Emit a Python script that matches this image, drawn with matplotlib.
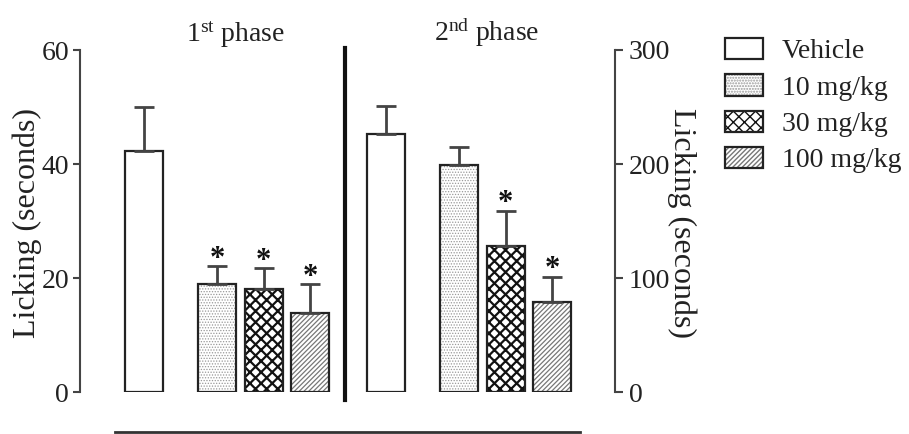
import matplotlib
matplotlib.use('Agg')
import matplotlib.pyplot as plt
from matplotlib.patches import Patch
from matplotlib.lines import Line2D

# ---- data ----
groups = ['Vehicle', '10 mg/kg', '30 mg/kg', '100 mg/kg']
phase1_mean = [42.3, 18.9, 18.1, 13.9]
phase1_err = [7.7, 3.2, 3.6, 5.0]
phase1_sig = [False, True, True, True]
phase2_mean = [226, 199, 128, 79]
phase2_err = [25, 16, 31, 22]
phase2_sig = [False, False, True, True]
left_ticks = [0, 20, 40, 60]
right_ticks = [0, 100, 200, 300]
phase_titles = ['1$^{\\mathrm{st}}$ phase', '2$^{\\mathrm{nd}}$ phase']
ylabel = 'Licking (seconds)'

# ---- style ----
plt.rcParams['font.family'] = ['Liberation Serif', 'DejaVu Serif']
plt.rcParams['mathtext.fontset'] = 'custom'
plt.rcParams['mathtext.rm'] = 'Liberation Serif'
plt.rcParams['mathtext.it'] = 'Liberation Serif:italic'
plt.rcParams['mathtext.bf'] = 'Liberation Serif:bold'
FS = 20
YFS = 23
TXT = '#222222'

styles = [
    dict(face='white', hatch=None, hcolor='#222222', hlw=1.0),
    dict(face='white', hatch='......', hcolor='#999999', hlw=0.6),
    dict(face='white', hatch='xxx', hcolor='#111111', hlw=1.6),
    dict(face='white', hatch='///////', hcolor='#777777', hlw=0.9),
]

fig = plt.figure(figsize=(9.09, 4.34), dpi=100)
ax = fig.add_axes([80 / 909, 42 / 434, 535 / 909, 342 / 434])
ax2 = ax.twinx()

ax.set_xlim(0, 11.5)
ax.set_ylim(0, 60)
ax2.set_ylim(0, 300)

pos1 = [1.37, 2.95, 3.95, 4.95]
pos2 = [6.57, 8.15, 9.15, 10.15]
width = 0.82


def make_bar(axis, x, m, st):
    b = axis.bar(x, m, width, color=st['face'], edgecolor=st['hcolor'],
                 hatch=st['hatch'], linewidth=0, zorder=1)
    for p in b:
        if hasattr(p, 'set_hatch_linewidth'):
            p.set_hatch_linewidth(st['hlw'])
    axis.bar(x, m, width, fill=False, edgecolor='#222222', linewidth=1.6, zorder=1.5)


def draw(axis, xs, means, errs, sig):
    for i, (x, m, e, s) in enumerate(zip(xs, means, errs, sig)):
        st = styles[i]
        make_bar(axis, x, m, st)
        axis.errorbar(x, m, yerr=[[0], [e]], fmt='none', ecolor='#444444',
                      elinewidth=2, capsize=7, capthick=2, zorder=2)
        if s:
            axis.annotate('*', (x, m + e), xytext=(0, 7), textcoords='offset pixels',
                          ha='center', va='center', fontsize=22, fontweight='bold',
                          color='#111111')


draw(ax, pos1, phase1_mean, phase1_err, phase1_sig)
draw(ax2, pos2, phase2_mean, phase2_err, phase2_sig)

for s in ['top', 'right', 'bottom']:
    ax.spines[s].set_visible(False)
for s in ['top', 'left', 'bottom']:
    ax2.spines[s].set_visible(False)
ax.spines['left'].set_color('#444444')
ax.spines['left'].set_linewidth(1.5)
ax2.spines['right'].set_color('#444444')
ax2.spines['right'].set_linewidth(1.5)

ax.set_xticks([])
ax.set_yticks(left_ticks)
ax2.set_yticks(right_ticks)
ax.tick_params(axis='y', direction='out', length=5, width=1.5, color='#444444',
               labelsize=FS, pad=3, labelcolor=TXT)
ax2.tick_params(axis='y', direction='out', length=6, width=1.5, color='#444444',
                labelsize=FS, pad=4, labelcolor=TXT)

# divider between phases
ax.plot([5.7, 5.7], [-1.4, 60.4], color='#111111', lw=3, clip_on=False, zorder=3)

# bottom line
fig.add_artist(Line2D([115 / 909, 580 / 909], [1 - 432 / 434] * 2, color='#333333', lw=2))

# titles
fig.text(235 / 909, 1 - 35 / 434, phase_titles[0], ha='center', va='center', fontsize=FS, color=TXT)
fig.text(487 / 909, 1 - 33 / 434, phase_titles[1], ha='center', va='center', fontsize=FS, color=TXT)

# y labels
fig.text(27 / 909, 1 - 223 / 434, ylabel, rotation=90, ha='center', va='center', fontsize=YFS, color=TXT)
fig.text(682 / 909, 1 - 223 / 434, ylabel, rotation=270, ha='center', va='center', fontsize=YFS, color=TXT)

# legend
handles = []
for st in styles:
    hp = Patch(facecolor=st['face'], edgecolor=st['hcolor'], hatch=st['hatch'], linewidth=0)
    bp = Patch(fill=False, edgecolor='#222222', linewidth=1.6)
    handles.append((hp, bp))
leg = fig.legend(handles, groups, loc='upper left', bbox_to_anchor=(725 / 909, 1 - 38 / 434),
                 frameon=False, fontsize=FS, handlelength=1.35, handleheight=0.8,
                 labelspacing=0.36, handletextpad=0.7, borderpad=0, borderaxespad=0)
for t in leg.get_texts():
    t.set_color(TXT)

fig.savefig('out.png', dpi=100)
